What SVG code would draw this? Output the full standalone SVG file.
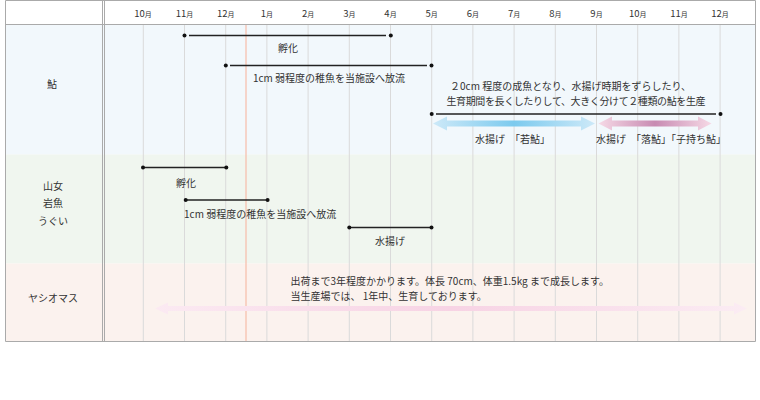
<svg xmlns="http://www.w3.org/2000/svg" width="760" height="400" viewBox="0 0 760 400">
<defs>
<style>
text{font-family:"Noto Sans CJK JP","Noto Sans",sans-serif;fill:#333;font-size:10px}
.m{font-size:9.5px;text-anchor:middle}
.m tspan{font-size:7px}
.c{text-anchor:middle}
.grid{stroke:#dadada;stroke-width:1}
.bd{stroke:#aaa;stroke-width:1;fill:none}
.ln{stroke:#222;stroke-width:1.3}
.dot{fill:#111}
</style>
<linearGradient id="gb" x1="0" x2="1" y1="0" y2="0">
<stop offset="0" stop-color="#cde9f8"/><stop offset="0.5" stop-color="#7ccaee"/><stop offset="1" stop-color="#cde9f8"/>
</linearGradient>
<linearGradient id="gp" x1="0" x2="1" y1="0" y2="0">
<stop offset="0" stop-color="#f6d9e6"/><stop offset="0.5" stop-color="#c88bb2"/><stop offset="1" stop-color="#f6d9e6"/>
</linearGradient>
<linearGradient id="gl" x1="0" x2="1" y1="0" y2="0">
<stop offset="0" stop-color="#fbeaf2"/><stop offset="0.5" stop-color="#f7d3e4"/><stop offset="1" stop-color="#fbecf3"/>
</linearGradient>
</defs>
<g id="background">
<rect x="5.5" y="0.5" width="750" height="24" fill="#fff"/>
<rect x="5.5" y="24.5" width="750" height="130" fill="#f2f8fc"/>
<rect x="5.5" y="154.5" width="750" height="109" fill="#f0f6ef"/>
<rect x="5.5" y="263.5" width="750" height="78" fill="#fbf2ee"/>
</g>
<g id="grid">
<path class="grid" d="M143.3 24.5V341.5M184.5 24.5V341.5M225.7 24.5V341.5M266.9 24.5V341.5M308.1 24.5V341.5M349.3 24.5V341.5M390.5 24.5V341.5M431.7 24.5V341.5M472.9 24.5V341.5M514.1 24.5V341.5M555.3 24.5V341.5M596.5 24.5V341.5M637.7 24.5V341.5M678.9 24.5V341.5M720.1 24.5V341.5"/>
<line x1="246" y1="24.5" x2="246" y2="341.5" stroke="#f7bca8" stroke-width="1.2"/>
<path class="bd" d="M5.5 0.5H755.5V341.5H5.5Z M5.5 24.5H755.5 M102.5 0.5V341.5 M104.5 0.5V341.5"/>
</g>
<g id="header">
<text class="m" x="143" y="17">10<tspan>月</tspan></text>
<text class="m" x="184.5" y="17">11<tspan>月</tspan></text>
<text class="m" x="225.7" y="17">12<tspan>月</tspan></text>
<text class="m" x="266.9" y="17">1<tspan>月</tspan></text>
<text class="m" x="308.1" y="17">2<tspan>月</tspan></text>
<text class="m" x="349.3" y="17">3<tspan>月</tspan></text>
<text class="m" x="390.5" y="17">4<tspan>月</tspan></text>
<text class="m" x="431.7" y="17">5<tspan>月</tspan></text>
<text class="m" x="472.9" y="17">6<tspan>月</tspan></text>
<text class="m" x="514.1" y="17">7<tspan>月</tspan></text>
<text class="m" x="555.3" y="17">8<tspan>月</tspan></text>
<text class="m" x="596.5" y="17">9<tspan>月</tspan></text>
<text class="m" x="637.7" y="17">10<tspan>月</tspan></text>
<text class="m" x="678.9" y="17">11<tspan>月</tspan></text>
<text class="m" x="720.1" y="17">12<tspan>月</tspan></text>
</g>
<g id="row-ayu">
<text class="c" x="52" y="88">鮎</text>
</g>
<g id="row-yamame">
<text class="c" x="53" y="190">山女</text>
<text class="c" x="53" y="207">岩魚</text>
<text class="c" x="53" y="225">うぐい</text>
</g>
<g id="row-yashio">
<text class="c" x="53" y="302">ヤシオマス</text>
</g>
<g id="connectors">
<line class="ln" x1="189" y1="35.5" x2="386" y2="35.5"/>
<circle class="dot" cx="184.5" cy="35.5" r="2"/><circle class="dot" cx="390.8" cy="35.5" r="2"/>
<line class="ln" x1="230" y1="65.5" x2="427" y2="65.5"/>
<circle class="dot" cx="225.8" cy="65.5" r="2"/><circle class="dot" cx="431.5" cy="65.5" r="2"/>
<line class="ln" x1="436" y1="114" x2="716" y2="114"/>
<circle class="dot" cx="431.7" cy="114" r="2"/><circle class="dot" cx="720.5" cy="114" r="2"/>
<path fill="url(#gb)" d="M433 123.5L447 116.5V120.5H581V116.5L595 123.5L581 130.5V126.5H447V130.5Z"/>
<path fill="url(#gp)" d="M598.5 123.5L612 116.5V120.5H698V116.5L711.5 123.5L698 130.5V126.5H612V130.5Z"/>
<line class="ln" x1="143" y1="167.5" x2="226" y2="167.5"/>
<circle class="dot" cx="143" cy="167.5" r="2"/><circle class="dot" cx="226.3" cy="167.5" r="2"/>
<line class="ln" x1="185.7" y1="200" x2="267.5" y2="200"/>
<circle class="dot" cx="185.7" cy="200" r="2"/><circle class="dot" cx="267.6" cy="200" r="2"/>
<line class="ln" x1="349.3" y1="227.5" x2="431.5" y2="227.5"/>
<circle class="dot" cx="349.3" cy="227.5" r="2"/><circle class="dot" cx="431.5" cy="227.5" r="2"/>
<path fill="url(#gl)" d="M155 308.5L168 302.5V306H734V302.5L747 308.5L734 314.5V311H168V314.5Z"/>
</g>
<g id="labels">
<text class="c" x="288" y="52">孵化</text>
<text class="c" x="329" y="82">1cm 弱程度の稚魚を当施設へ放流</text>
<text x="450" y="90">２0cm 程度の成魚となり、水揚げ時期をずらしたり、</text>
<text x="446.5" y="105" textLength="259">生育期間を長くしたりして、大きく分けて２種類の鮎を生産</text>
<text x="475" y="143" xml:space="preserve">水揚げ　「若鮎」</text>
<text x="596" y="143" xml:space="preserve">水揚げ　「落鮎」「子持ち鮎」</text>
<text class="c" x="186" y="187">孵化</text>
<text x="184" y="218">1cm 弱程度の稚魚を当施設へ放流</text>
<text class="c" x="390" y="245">水揚げ</text>
<text x="290.5" y="285">出荷まで3年程度かかります。体長 70cm、体重1.5kg まで成長します。</text>
<text x="290.5" y="300">当生産場では、 1年中、生育しております。</text>
</g>
</svg>
